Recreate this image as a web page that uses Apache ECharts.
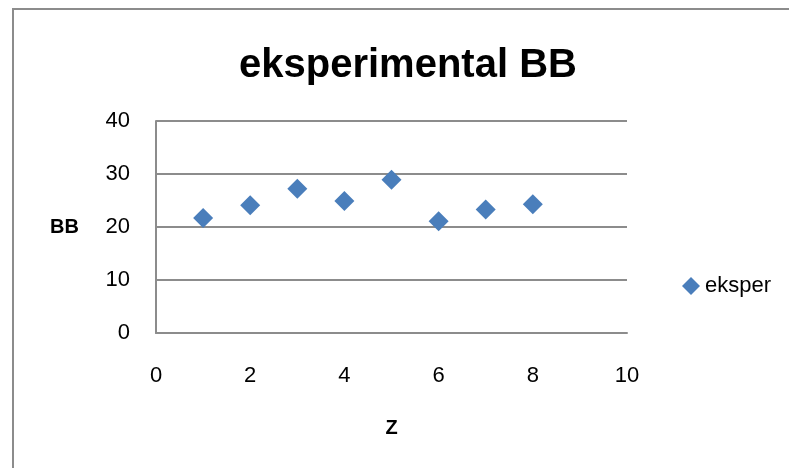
<!DOCTYPE html>
<html>
<head>
<meta charset="utf-8">
<script src="https://cdn.jsdelivr.net/npm/echarts@6/dist/echarts.min.js"></script>
<style>
html,body{margin:0;padding:0;background:#fff;}
#chart{width:789px;height:468px;}
</style>
</head>
<body>
<div id="chart"></div>
<script>
var titleText = "eksperimental BB";
var seriesName = "eksper";
var xName = "Z";
var yName = "BB";
var zValues = [1, 2, 3, 4, 5, 6, 7, 8];
var bbValues = [21.7, 24.1, 27.2, 24.9, 28.9, 21.1, 23.3, 24.3];

var data = zValues.map(function (z, i) { return [z, bbValues[i]]; });
var FONT = "Liberation Sans";
var chart = echarts.init(document.getElementById('chart'), null, {renderer: 'canvas'});
chart.setOption({
  backgroundColor: '#fff',
  animation: false,
  title: {
    text: titleText,
    left: 234,
    top: 41,
    textStyle: {fontFamily: FONT, fontWeight: 'bold', fontSize: 40, color: '#000'}
  },
  graphic: [{
    type: 'rect',
    shape: {x: 13, y: 9, width: 900, height: 600},
    style: {fill: null, stroke: '#8c8c8c', lineWidth: 2},
    silent: true
  }],
  legend: {
    left: 677,
    top: 270,
    itemWidth: 18,
    itemHeight: 18,
    itemGap: 4,
    textStyle: {fontFamily: FONT, fontSize: 22, color: '#000'},
    data: [{name: seriesName, icon: 'diamond'}]
  },
  grid: {left: 156, right: 162, top: 121, bottom: 135, containLabel: false},
  xAxis: {
    type: 'value',
    min: 0, max: 10, interval: 2,
    name: xName,
    nameLocation: 'middle',
    nameGap: 85,
    nameTextStyle: {fontFamily: FONT, fontWeight: 'bold', fontSize: 20, color: '#000'},
    axisLine: {show: true, lineStyle: {color: '#8c8c8c', width: 2}},
    axisTick: {show: false},
    splitLine: {show: false},
    axisLabel: {margin: 32, fontFamily: FONT, fontSize: 22, color: '#000'}
  },
  yAxis: {
    type: 'value',
    min: 0, max: 40, interval: 10,
    name: yName,
    nameLocation: 'middle',
    nameRotate: 0,
    nameGap: 77,
    nameTextStyle: {fontFamily: FONT, fontWeight: 'bold', fontSize: 20, color: '#000', align: 'right'},
    axisLine: {show: true, lineStyle: {color: '#8c8c8c', width: 2}},
    axisTick: {show: false},
    splitLine: {show: true, lineStyle: {color: '#8c8c8c', width: 2}},
    axisLabel: {margin: 26, fontFamily: FONT, fontSize: 22, color: '#000'}
  },
  series: [{
    name: seriesName,
    type: 'scatter',
    symbol: 'diamond',
    symbolSize: 20,
    itemStyle: {color: '#4A7EBB', opacity: 1},
    data: data
  }]
});
</script>
</body>
</html>
